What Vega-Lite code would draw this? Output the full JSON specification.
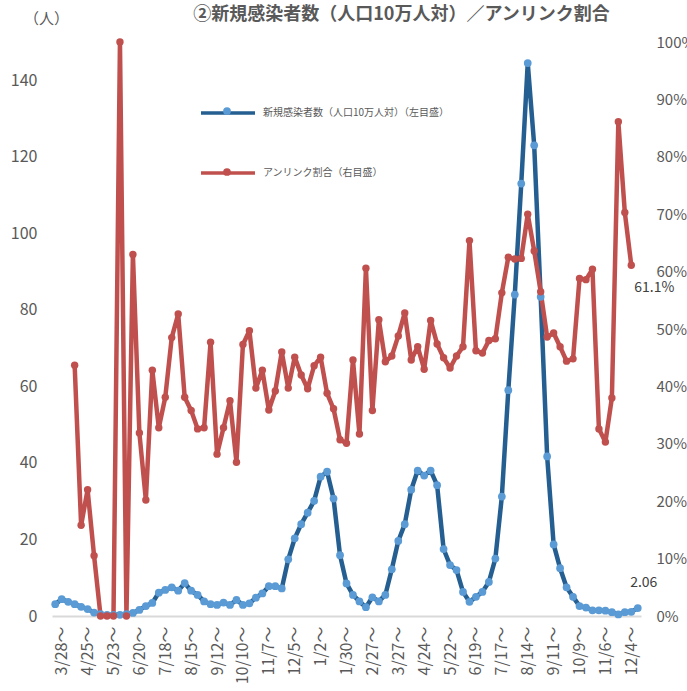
{
  "$schema": "https://vega.github.io/schema/vega-lite/v6.json",
  "width": 589,
  "height": 574,
  "autosize": {"type": "none"},
  "padding": {"left": 52, "top": 42, "right": 46, "bottom": 75},
  "background": "white",
  "config": {
    "font": "Noto Sans CJK JP",
    "view": {"stroke": null},
    "axis": {"grid": false, "ticks": false, "labelFlush": false, "labelOverlap": false}
  },
  "title": {
    "text": "②新規感染者数（人口10万人対）／アンリンク割合",
    "fontSize": 18,
    "fontWeight": "bold",
    "color": "#595959",
    "anchor": "middle",
    "dx": 55,
    "offset": -31,
    "baseline": "bottom"
  },
  "data": {
    "values": [
      {"j": 0, "d": "3/21～", "n": 3.1, "r": null},
      {"j": 1, "d": "3/28～", "n": 4.4, "r": null},
      {"j": 2, "d": "4/4～", "n": 3.7, "r": null},
      {"j": 3, "d": "4/11～", "n": 3.1, "r": 0.437},
      {"j": 4, "d": "4/18～", "n": 2.4, "r": 0.158},
      {"j": 5, "d": "4/25～", "n": 1.8, "r": 0.22},
      {"j": 6, "d": "5/2～", "n": 0.9, "r": 0.105},
      {"j": 7, "d": "5/9～", "n": 0.5, "r": 0},
      {"j": 8, "d": "5/16～", "n": 0.3, "r": 0},
      {"j": 9, "d": "5/23～", "n": 0.3, "r": 0},
      {"j": 10, "d": "5/30～", "n": 0.3, "r": 1.0},
      {"j": 11, "d": "6/6～", "n": 0.5, "r": 0},
      {"j": 12, "d": "6/13～", "n": 0.8, "r": 0.63},
      {"j": 13, "d": "6/20～", "n": 1.6, "r": 0.319},
      {"j": 14, "d": "6/27～", "n": 2.6, "r": 0.202},
      {"j": 15, "d": "7/4～", "n": 3.4, "r": 0.428},
      {"j": 16, "d": "7/11～", "n": 6.1, "r": 0.328},
      {"j": 17, "d": "7/18～", "n": 6.8, "r": 0.381},
      {"j": 18, "d": "7/25～", "n": 7.5, "r": 0.485},
      {"j": 19, "d": "8/1～", "n": 6.6, "r": 0.526},
      {"j": 20, "d": "8/8～", "n": 8.6, "r": 0.381},
      {"j": 21, "d": "8/15～", "n": 6.6, "r": 0.358},
      {"j": 22, "d": "8/22～", "n": 5.5, "r": 0.326},
      {"j": 23, "d": "8/29～", "n": 3.8, "r": 0.328},
      {"j": 24, "d": "9/5～", "n": 3.1, "r": 0.477},
      {"j": 25, "d": "9/12～", "n": 2.9, "r": 0.282},
      {"j": 26, "d": "9/19～", "n": 3.5, "r": 0.328},
      {"j": 27, "d": "9/26～", "n": 2.9, "r": 0.375},
      {"j": 28, "d": "10/3～", "n": 4.2, "r": 0.268},
      {"j": 29, "d": "10/10～", "n": 2.9, "r": 0.473},
      {"j": 30, "d": "10/17～", "n": 3.3, "r": 0.497},
      {"j": 31, "d": "10/24～", "n": 4.8, "r": 0.397},
      {"j": 32, "d": "10/31～", "n": 5.9, "r": 0.428},
      {"j": 33, "d": "11/7～", "n": 7.8, "r": 0.359},
      {"j": 34, "d": "11/14～", "n": 7.8, "r": 0.392},
      {"j": 35, "d": "11/21～", "n": 7.2, "r": 0.46},
      {"j": 36, "d": "11/28～", "n": 14.8, "r": 0.397},
      {"j": 37, "d": "12/5～", "n": 20.3, "r": 0.451},
      {"j": 38, "d": "12/12～", "n": 24.0, "r": 0.42},
      {"j": 39, "d": "12/19～", "n": 27.0, "r": 0.396},
      {"j": 40, "d": "12/26～", "n": 30.1, "r": 0.436},
      {"j": 41, "d": "1/2～", "n": 36.4, "r": 0.451},
      {"j": 42, "d": "1/9～", "n": 37.7, "r": 0.388},
      {"j": 43, "d": "1/16～", "n": 30.7, "r": 0.361},
      {"j": 44, "d": "1/23～", "n": 15.9, "r": 0.307},
      {"j": 45, "d": "1/30～", "n": 8.5, "r": 0.301},
      {"j": 46, "d": "2/6～", "n": 5.5, "r": 0.446},
      {"j": 47, "d": "2/13～", "n": 3.8, "r": 0.317},
      {"j": 48, "d": "2/20～", "n": 2.3, "r": 0.606},
      {"j": 49, "d": "2/27～", "n": 4.9, "r": 0.358},
      {"j": 50, "d": "3/6～", "n": 3.8, "r": 0.516},
      {"j": 51, "d": "3/13～", "n": 5.5, "r": 0.443},
      {"j": 52, "d": "3/20～", "n": 12.2, "r": 0.453},
      {"j": 53, "d": "3/27～", "n": 19.6, "r": 0.488},
      {"j": 54, "d": "4/3～", "n": 24.0, "r": 0.528},
      {"j": 55, "d": "4/10～", "n": 33.0, "r": 0.446},
      {"j": 56, "d": "4/17～", "n": 38.0, "r": 0.469},
      {"j": 57, "d": "4/24～", "n": 36.7, "r": 0.43},
      {"j": 58, "d": "5/1～", "n": 38.0, "r": 0.515},
      {"j": 59, "d": "5/8～", "n": 34.2, "r": 0.474},
      {"j": 60, "d": "5/15～", "n": 17.5, "r": 0.45},
      {"j": 61, "d": "5/22～", "n": 13.3, "r": 0.432},
      {"j": 62, "d": "5/29～", "n": 12.0, "r": 0.453},
      {"j": 63, "d": "6/5～", "n": 6.3, "r": 0.469},
      {"j": 64, "d": "6/12～", "n": 3.7, "r": 0.654},
      {"j": 65, "d": "6/19～", "n": 5.0, "r": 0.462},
      {"j": 66, "d": "6/26～", "n": 6.3, "r": 0.458},
      {"j": 67, "d": "7/3～", "n": 8.9, "r": 0.48},
      {"j": 68, "d": "7/10～", "n": 15.0, "r": 0.483},
      {"j": 69, "d": "7/17～", "n": 31.2, "r": 0.563},
      {"j": 70, "d": "7/24～", "n": 59.0, "r": 0.625},
      {"j": 71, "d": "7/31～", "n": 84.0, "r": 0.622},
      {"j": 72, "d": "8/7～", "n": 113.0, "r": 0.623},
      {"j": 73, "d": "8/14～", "n": 144.5, "r": 0.70},
      {"j": 74, "d": "8/21～", "n": 123.0, "r": 0.636},
      {"j": 75, "d": "8/28～", "n": 83.4, "r": 0.565},
      {"j": 76, "d": "9/4～", "n": 41.7, "r": 0.486},
      {"j": 77, "d": "9/11～", "n": 18.7, "r": 0.493},
      {"j": 78, "d": "9/18～", "n": 12.5, "r": 0.469},
      {"j": 79, "d": "9/25～", "n": 7.5, "r": 0.444},
      {"j": 80, "d": "10/2～", "n": 5.0, "r": 0.448},
      {"j": 81, "d": "10/9～", "n": 2.6, "r": 0.588},
      {"j": 82, "d": "10/16～", "n": 2.2, "r": 0.586},
      {"j": 83, "d": "10/23～", "n": 1.5, "r": 0.604},
      {"j": 84, "d": "10/30～", "n": 1.5, "r": 0.326},
      {"j": 85, "d": "11/6～", "n": 1.4, "r": 0.303},
      {"j": 86, "d": "11/13～", "n": 1.0, "r": 0.38},
      {"j": 87, "d": "11/20～", "n": 0.4, "r": 0.861},
      {"j": 88, "d": "11/27～", "n": 1.0, "r": 0.703},
      {"j": 89, "d": "12/4～", "n": 1.1, "r": 0.611},
      {"j": 90, "d": "12/11～", "n": 2.06, "r": null}
    ]
  },
  "encoding": {
    "x": {
      "field": "d",
      "type": "ordinal",
      "sort": null,
      "scale": {
        "type": "point",
        "padding": 0.5,
        "domain": ["3/21～","3/28～","4/4～","4/11～","4/18～","4/25～","5/2～","5/9～","5/16～","5/23～","5/30～","6/6～","6/13～","6/20～","6/27～","7/4～","7/11～","7/18～","7/25～","8/1～","8/8～","8/15～","8/22～","8/29～","9/5～","9/12～","9/19～","9/26～","10/3～","10/10～","10/17～","10/24～","10/31～","11/7～","11/14～","11/21～","11/28～","12/5～","12/12～","12/19～","12/26～","1/2～","1/9～","1/16～","1/23～","1/30～","2/6～","2/13～","2/20～","2/27～","3/6～","3/13～","3/20～","3/27～","4/3～","4/10～","4/17～","4/24～","5/1～","5/8～","5/15～","5/22～","5/29～","6/5～","6/12～","6/19～","6/26～","7/3～","7/10～","7/17～","7/24～","7/31～","8/7～","8/14～","8/21～","8/28～","9/4～","9/11～","9/18～","9/25～","10/2～","10/9～","10/16～","10/23～","10/30～","11/6～","11/13～","11/20～","11/27～","12/4～","12/11～"]
      },
      "axis": {
        "values": ["3/28～","4/25～","5/23～","6/20～","7/18～","8/15～","9/12～","10/10～","11/7～","12/5～","1/2～","1/30～","2/27～","3/27～","4/24～","5/22～","6/19～","7/17～","8/14～","9/11～","10/9～","11/6～","12/4～"],
        "title": null,
        "labelAngle": -90,
        "labelFontSize": 16,
        "labelColor": "#595959",
        "labelPadding": 10,
        "ticks": false,
        "domainColor": "#d9d9d9",
        "domainWidth": 2
      }
    }
  },
  "layer": [
    {
      "mark": {"type": "line", "strokeWidth": 4.5, "strokeCap": "round", "strokeJoin": "round"},
      "encoding": {
        "order": {"field": "j", "type": "quantitative"},
        "y": {
          "field": "n",
          "type": "quantitative",
          "scale": {"domain": [0, 150]},
          "axis": {
            "orient": "left",
            "values": [0, 20, 40, 60, 80, 100, 120, 140],
            "domain": false,
            "labelFontSize": 16,
            "labelColor": "#595959",
            "labelPadding": 15,
            "title": "（人）",
            "titleAngle": 0,
            "titleX": -6,
            "titleY": -19,
            "titleAlign": "center",
            "titleBaseline": "alphabetic",
            "titleFontSize": 15,
            "titleFontWeight": "normal",
            "titleColor": "#595959"
          }
        },
        "stroke": {
          "datum": "新規感染者数（人口10万人対）（左目盛）",
          "type": "nominal",
          "scale": {
            "domain": ["新規感染者数（人口10万人対）（左目盛）", "アンリンク割合（右目盛）"],
            "range": ["#255E91", "#C0504D"]
          },
          "legend": {
            "orient": "none",
            "legendX": 147,
            "legendY": 42,
            "title": null,
            "padding": 0,
            "symbolType": "stroke",
            "symbolSize": 2916,
            "symbolStrokeWidth": 3.5,
            "labelFontSize": 10,
            "labelColor": "#595959",
            "labelOffset": 6,
            "labelLimit": 400,
            "rowPadding": 24
          }
        }
      }
    },
    {
      "mark": {"type": "line", "strokeWidth": 4.5, "strokeCap": "round", "strokeJoin": "round"},
      "encoding": {
        "order": {"field": "j", "type": "quantitative"},
        "y": {
          "field": "r",
          "type": "quantitative",
          "scale": {"domain": [0, 1]},
          "axis": {
            "orient": "right",
            "values": [0, 0.1, 0.2, 0.3, 0.4, 0.5, 0.6, 0.7, 0.8, 0.9, 1],
            "format": ".0%",
            "domain": false,
            "labelFontSize": 15,
            "labelColor": "#595959",
            "labelPadding": 15,
            "title": null
          }
        },
        "stroke": {"datum": "アンリンク割合（右目盛）", "type": "nominal"}
      }
    },
    {
      "mark": {"type": "point", "filled": true, "size": 60, "opacity": 1, "strokeWidth": 0},
      "encoding": {
        "y": {"field": "n", "type": "quantitative", "scale": {"domain": [0, 150]}, "axis": null},
        "fill": {
          "datum": "新規感染者数（人口10万人対）（左目盛） ",
          "type": "nominal",
          "scale": {
            "domain": ["新規感染者数（人口10万人対）（左目盛） ", "アンリンク割合（右目盛） "],
            "range": ["#5B9BD5", "#C0504D"]
          },
          "legend": {
            "orient": "none",
            "legendX": 170,
            "legendY": 64,
            "title": null,
            "padding": 0,
            "symbolType": "circle",
            "symbolSize": 60,
            "symbolStrokeWidth": 0,
            "labelFontSize": 10,
            "labelExpr": "''",
            "rowPadding": 51
          }
        }
      }
    },
    {
      "mark": {"type": "point", "filled": true, "size": 55, "opacity": 1, "strokeWidth": 0},
      "encoding": {
        "y": {"field": "r", "type": "quantitative", "scale": {"domain": [0, 1]}, "axis": null},
        "fill": {"datum": "アンリンク割合（右目盛） ", "type": "nominal"}
      }
    },
    {
      "transform": [{"filter": "datum.j === 90"}],
      "mark": {"type": "text", "align": "center", "dx": 6, "dy": -25, "fontSize": 14, "color": "#404040"},
      "encoding": {
        "y": {"field": "n", "type": "quantitative", "scale": {"domain": [0, 150]}, "axis": null},
        "text": {"field": "n", "type": "quantitative", "format": ".2f"}
      }
    },
    {
      "transform": [{"filter": "datum.j === 89"}],
      "mark": {"type": "text", "align": "left", "dx": 3, "dy": 23, "fontSize": 14, "color": "#404040"},
      "encoding": {
        "y": {"field": "r", "type": "quantitative", "scale": {"domain": [0, 1]}, "axis": null},
        "text": {"field": "r", "type": "quantitative", "format": ".1%"}
      }
    }
  ],
  "resolve": {"scale": {"y": "independent"}}
}
